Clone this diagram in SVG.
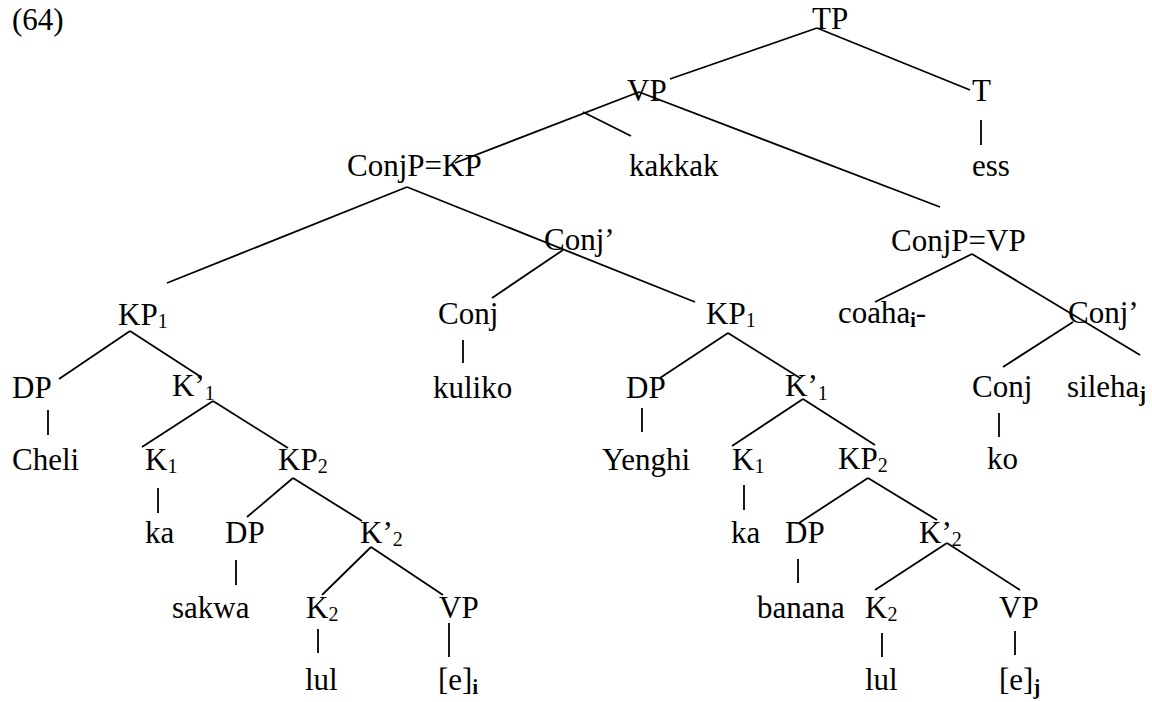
<svg xmlns="http://www.w3.org/2000/svg" width="1152" height="702" viewBox="0 0 1152 702">
<style>
text{font-family:"Liberation Serif","Times New Roman",serif;font-size:31px;fill:#000}
.s{font-size:20px}
.b{font-size:20px;font-weight:bold}
#edges line{stroke:#000;stroke-width:1.8;stroke-linecap:butt}
</style>
<rect width="1152" height="702" fill="#fff"/>
<text x="12" y="30">(64)</text>
<g id="edges">
<line x1="817" y1="28" x2="670" y2="79"/>
<line x1="817" y1="28" x2="970" y2="90"/>
<line x1="981" y1="120" x2="981" y2="145"/>
<line x1="639" y1="92" x2="455" y2="163"/>
<line x1="583" y1="112" x2="631" y2="136"/>
<line x1="639" y1="92" x2="940" y2="207"/>
<line x1="407" y1="187" x2="167" y2="283"/>
<line x1="407" y1="187" x2="695" y2="302"/>
<line x1="563" y1="250" x2="492" y2="298"/>
<line x1="463" y1="340" x2="463" y2="363"/>
<line x1="130" y1="331" x2="59" y2="379"/>
<line x1="130" y1="331" x2="201" y2="377"/>
<line x1="48" y1="410" x2="48" y2="435"/>
<line x1="213" y1="401" x2="142" y2="447"/>
<line x1="213" y1="401" x2="288" y2="448"/>
<line x1="158" y1="488" x2="158" y2="513"/>
<line x1="293" y1="478" x2="247" y2="517"/>
<line x1="293" y1="478" x2="362" y2="521"/>
<line x1="236" y1="560" x2="236" y2="585"/>
<line x1="371" y1="547" x2="322" y2="595"/>
<line x1="371" y1="547" x2="443" y2="595"/>
<line x1="318" y1="629" x2="318" y2="653"/>
<line x1="449" y1="623" x2="449" y2="657"/>
<line x1="728" y1="333" x2="660" y2="378"/>
<line x1="728" y1="333" x2="800" y2="378"/>
<line x1="642" y1="408" x2="642" y2="432"/>
<line x1="803" y1="399" x2="732" y2="446"/>
<line x1="803" y1="399" x2="875" y2="445"/>
<line x1="744" y1="485" x2="744" y2="510"/>
<line x1="868" y1="478" x2="799" y2="523"/>
<line x1="868" y1="478" x2="937" y2="520"/>
<line x1="798" y1="559" x2="798" y2="583"/>
<line x1="947" y1="543" x2="875" y2="590"/>
<line x1="947" y1="543" x2="1020" y2="590"/>
<line x1="882" y1="633" x2="882" y2="657"/>
<line x1="1015" y1="631" x2="1015" y2="655"/>
<line x1="972" y1="254" x2="875" y2="302"/>
<line x1="972" y1="254" x2="1140" y2="355"/>
<line x1="1073" y1="322" x2="1003" y2="367"/>
<line x1="999" y1="413" x2="999" y2="437"/>
</g>
<g id="TP"><text x="812" y="29">TP</text></g>
<g id="VP"><text x="627" y="101">VP</text></g>
<g id="T"><text x="972" y="101">T</text></g>
<g id="ess"><text x="972" y="176">ess</text></g>
<g id="ConjP_KP"><text x="347" y="176">ConjP=KP</text></g>
<g id="kakkak"><text x="629" y="176">kakkak</text></g>
<g id="ConjBar1"><text x="544" y="250">Conj’</text></g>
<g id="ConjP_VP"><text x="891" y="251">ConjP=VP</text></g>
<g id="KP1a"><text x="118" y="325">KP<tspan class="s" dy="3">1</tspan></text></g>
<g id="Conj1"><text x="438" y="324">Conj</text></g>
<g id="KP1b"><text x="706" y="324">KP<tspan class="s" dy="3">1</tspan></text></g>
<g id="coaha"><text x="838" y="323">coaha<tspan class="b" dy="4">i</tspan><tspan dy="-4">-</tspan></text></g>
<g id="ConjBar2"><text x="1068" y="323">Conj’</text></g>
<g id="DPa"><text x="12" y="398">DP</text></g>
<g id="Kbar1a"><text x="172" y="396">K’<tspan class="s" dy="4">1</tspan></text></g>
<g id="kuliko"><text x="433" y="398">kuliko</text></g>
<g id="DPb"><text x="626" y="398">DP</text></g>
<g id="Kbar1b"><text x="785" y="396">K’<tspan class="s" dy="4">1</tspan></text></g>
<g id="Conj2"><text x="972" y="397">Conj</text></g>
<g id="sileha"><text x="1067" y="397">sileha<tspan class="b" dy="4">j</tspan></text></g>
<g id="Cheli"><text x="12" y="470">Cheli</text></g>
<g id="K1a"><text x="145" y="470">K<tspan class="s" dy="3">1</tspan></text></g>
<g id="KP2a"><text x="278" y="470">KP<tspan class="s" dy="3">2</tspan></text></g>
<g id="Yenghi"><text x="602" y="470">Yenghi</text></g>
<g id="K1b"><text x="732" y="470">K<tspan class="s" dy="3">1</tspan></text></g>
<g id="KP2b"><text x="838" y="469">KP<tspan class="s" dy="3">2</tspan></text></g>
<g id="ko"><text x="987" y="469">ko</text></g>
<g id="ka_a"><text x="145" y="543">ka</text></g>
<g id="DPc"><text x="225" y="543">DP</text></g>
<g id="Kbar2a"><text x="360" y="543">K’<tspan class="s" dy="3">2</tspan></text></g>
<g id="ka_b"><text x="731" y="543">ka</text></g>
<g id="DPd"><text x="785" y="543">DP</text></g>
<g id="Kbar2b"><text x="919" y="543">K’<tspan class="s" dy="3">2</tspan></text></g>
<g id="sakwa"><text x="172" y="618">sakwa</text></g>
<g id="K2a"><text x="306" y="618">K<tspan class="s" dy="3">2</tspan></text></g>
<g id="VPa"><text x="439" y="618">VP</text></g>
<g id="banana"><text x="757" y="618">banana</text></g>
<g id="K2b"><text x="865" y="618">K<tspan class="s" dy="3">2</tspan></text></g>
<g id="VPb"><text x="999" y="618">VP</text></g>
<g id="lul_a"><text x="305" y="690">lul</text></g>
<g id="e_i"><text x="438" y="690">[e]<tspan class="b" dy="4">i</tspan></text></g>
<g id="lul_b"><text x="865" y="690">lul</text></g>
<g id="e_j"><text x="999" y="690">[e]<tspan class="b" dy="4">j</tspan></text></g>
</svg>
